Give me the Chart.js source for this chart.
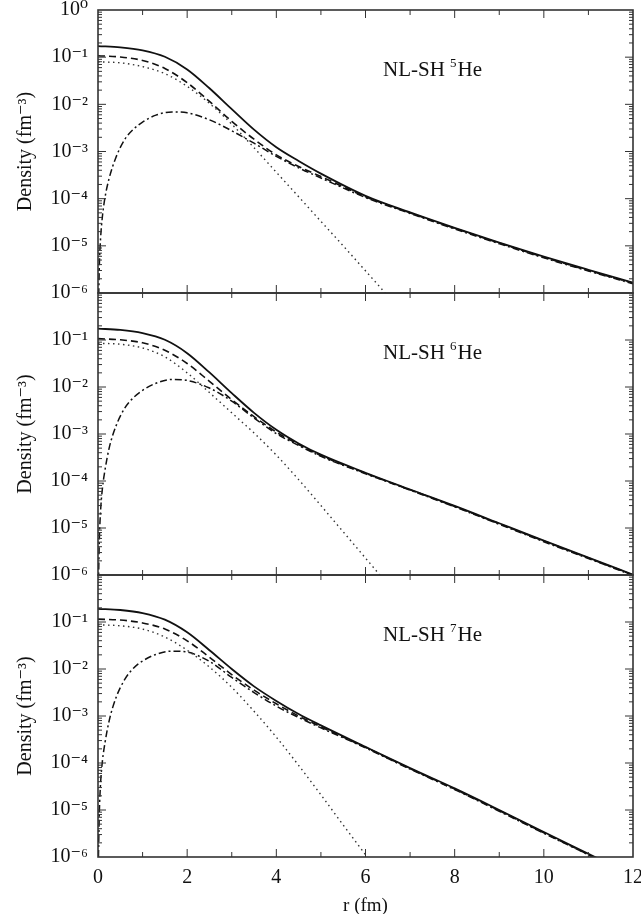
<!DOCTYPE html>
<html>
<head>
<meta charset="utf-8">
<script src="https://cdn.jsdelivr.net/npm/chart.js@4.4.1/dist/chart.umd.min.js"></script>
<style>
  body { margin: 0; background: #fff; }
  #wrap { position: relative; width: 641px; height: 914px; overflow: hidden; }
  canvas { position: absolute; left: 0; }
</style>
</head>
<body>
<div id="wrap">
  <canvas id="c1" width="641" height="310" style="top:0px"></canvas>
  <canvas id="c2" width="641" height="310" style="top:283px"></canvas>
  <canvas id="c3" width="641" height="349" style="top:565px"></canvas>
</div>
<script>
// radial grids (fm)
const rCore = [0, 0.5, 1, 1.5, 2, 2.5, 3, 3.5, 4, 4.5, 5, 6, 7, 8, 9, 10, 11, 12];
const rDot = [0, 0.5, 1, 1.5, 2, 2.5, 3, 3.5, 4, 4.5, 5, 5.5, 6, 6.5, 7];
const rVal = [0.01, 0.03, 0.06, 0.1, 0.16, 0.25, 0.4, 0.6, 0.8, 1, 1.3, 1.66, 2, 2.5, 3, 3.5, 4, 4.5, 5, 6, 7, 8, 9, 10, 11, 12];

// 5He densities (fm^-3)
const he5Solid = [0.172, 0.162, 0.14, 0.102, 0.055, 0.0219, 7.9e-3, 2.9e-3, 1.23e-3, 6.3e-4, 3.4e-4, 1.15e-4, 5.1e-5, 2.4e-5, 1.17e-5, 5.9e-6, 3.1e-6, 1.66e-6];
const he5Dashed = [0.107, 0.101, 0.0851, 0.0575, 0.0288, 0.0115, 4.37e-3, 1.82e-3, 8.5e-4, 4.8e-4, 2.95e-4, 1.1e-4, 5.0e-5, 2.35e-5, 1.15e-5, 5.75e-6, 3.0e-6, 1.62e-6];
const he5Dotted = [0.0794, 0.0759, 0.0631, 0.0447, 0.024, 0.0105, 3.8e-3, 1.2e-3, 3.63e-4, 1.1e-4, 3.3e-5, 1.0e-5, 2.95e-6, 8.7e-7, 2.5e-7];
const he5DashDot = [4.3e-7, 3.8e-6, 1.55e-5, 4.3e-5, 1.1e-4, 2.7e-4, 7.4e-4, 1.8e-3, 3.0e-3, 4.2e-3, 5.9e-3, 6.9e-3, 6.6e-3, 4.7e-3, 2.75e-3, 1.5e-3, 7.9e-4, 4.5e-4, 2.75e-4, 1.06e-4, 4.85e-5, 2.28e-5, 1.11e-5, 5.55e-6, 2.93e-6, 1.57e-6];

// 6He densities
const he6Solid = [0.174, 0.164, 0.14, 0.101, 0.0525, 0.0204, 7.4e-3, 2.82e-3, 1.23e-3, 6.3e-4, 3.63e-4, 1.5e-4, 6.6e-5, 2.95e-5, 1.26e-5, 5.4e-6, 2.35e-6, 1.02e-6];
const he6Dashed = [0.107, 0.101, 0.0871, 0.0603, 0.0316, 0.0132, 5.37e-3, 2.34e-3, 1.1e-3, 6.0e-4, 3.47e-4, 1.46e-4, 6.5e-5, 2.88e-5, 1.23e-5, 5.3e-6, 2.3e-6, 1.0e-6];
const he6Dotted = [0.0851, 0.0813, 0.0676, 0.0437, 0.02, 7.6e-3, 2.82e-3, 1.05e-3, 3.55e-4, 1.07e-4, 3.0e-5, 8.3e-6, 2.29e-6, 6.3e-7, 1.74e-7];
const he6DashDot = [6.3e-7, 5.6e-6, 2.5e-5, 7.1e-5, 1.78e-4, 5.0e-4, 1.45e-3, 3.55e-3, 6.0e-3, 8.5e-3, 0.012, 0.0145, 0.0138, 9.5e-3, 5.0e-3, 2.19e-3, 1.02e-3, 5.7e-4, 3.35e-4, 1.43e-4, 6.4e-5, 2.82e-5, 1.2e-5, 5.1e-6, 2.24e-6, 9.8e-7];

// 7He densities
const he7Solid = [0.19, 0.18, 0.155, 0.112, 0.0603, 0.0251, 0.01, 4.27e-3, 2.09e-3, 1.1e-3, 6.3e-4, 2.2e-4, 7.8e-5, 2.88e-5, 1.0e-5, 3.4e-6, 1.17e-6, 4.0e-7];
const he7Dashed = [0.115, 0.11, 0.0955, 0.0708, 0.0398, 0.0178, 7.6e-3, 3.55e-3, 1.82e-3, 1.0e-3, 5.9e-4, 2.15e-4, 7.6e-5, 2.78e-5, 9.7e-6, 3.27e-6, 1.13e-6, 3.85e-7];
const he7Dotted = [0.087, 0.083, 0.0708, 0.0479, 0.0251, 0.011, 4.07e-3, 1.26e-3, 3.55e-4, 8.9e-5, 2.1e-5, 4.8e-6, 1.12e-6, 2.6e-7, 6.3e-8];
const he7DashDot = [1.0e-6, 8.9e-6, 4.0e-5, 1.12e-4, 2.8e-4, 7.9e-4, 2.4e-3, 6.0e-3, 0.0105, 0.0148, 0.0204, 0.024, 0.0229, 0.0145, 6.6e-3, 3.16e-3, 1.62e-3, 9.3e-4, 5.6e-4, 2.1e-4, 7.4e-5, 2.72e-5, 9.4e-6, 3.2e-6, 1.11e-6, 3.76e-7];

// axis ticks
const yTickValues = [1e-6, 1e-5, 1e-4, 1e-3, 1e-2, 1e-1, 1];
const xTickStep = 2;

const SERIF = '"Liberation Serif", "DejaVu Serif", serif';
const SUP = { '-': '\u207B', '0': '\u2070', '1': '\u00B9', '2': '\u00B2', '3': '\u00B3', '4': '\u2074', '5': '\u2075', '6': '\u2076' };

function pts(rs, vs) {
  return rs.map((r, i) => ({ x: r, y: vs[i] }));
}

// box + inward ticks on all four sides
const framePlugin = {
  id: 'frame',
  afterDatasetsDraw(chart) {
    const { ctx, chartArea: a, scales: { x, y } } = chart;
    ctx.save();
    ctx.strokeStyle = '#333';
    ctx.lineWidth = 1;
    ctx.beginPath();
    for (let r = 1; r < 12; r++) {
      const px = x.getPixelForValue(r);
      const len = r % 2 === 0 ? 8 : 5;
      ctx.moveTo(px, a.bottom); ctx.lineTo(px, a.bottom - len);
      ctx.moveTo(px, a.top); ctx.lineTo(px, a.top + len);
    }
    for (let d = -6; d < 0; d++) {
      for (let m = 1; m < 10; m++) {
        if (d === -6 && m === 1) continue;
        const py = y.getPixelForValue(m * Math.pow(10, d));
        const len = m === 1 ? 8 : 4;
        ctx.moveTo(a.left, py); ctx.lineTo(a.left + len, py);
        ctx.moveTo(a.right, py); ctx.lineTo(a.right - len, py);
      }
    }
    ctx.stroke();
    ctx.lineWidth = 1.6;
    ctx.strokeRect(a.left, a.top, a.right - a.left, a.bottom - a.top);
    ctx.restore();
  }
};

// "NL-SH ^AHe" label
const nucleusPlugin = {
  id: 'nucleus',
  afterDraw(chart, args, opts) {
    const { ctx, chartArea: a } = chart;
    const x0 = 383, yb = a.top + 66;
    ctx.save();
    ctx.fillStyle = '#111';
    ctx.textBaseline = 'alphabetic';
    ctx.font = '21px ' + SERIF;
    ctx.fillText('NL-SH ', x0, yb);
    let w = ctx.measureText('NL-SH ').width;
    ctx.font = '13px ' + SERIF;
    ctx.fillText(opts.mass, x0 + w, yb - 9);
    w += ctx.measureText(opts.mass).width + 1;
    ctx.font = '21px ' + SERIF;
    ctx.fillText('He', x0 + w, yb);
    ctx.restore();
  }
};

function makePanel(id, mass, solid, dashed, dotted, dashDot, opts) {
  const line = (data, dash, width, color) => ({
    data, borderColor: color, borderWidth: width, borderDash: dash,
    pointRadius: 0, fill: false, cubicInterpolationMode: 'monotone'
  });
  new Chart(document.getElementById(id), {
    type: 'line',
    data: {
      datasets: [
        line(pts(rDot, dotted), [1.5, 3.5], 1.4, '#333'),
        line(pts(rVal, dashDot), [7, 3, 2, 3], 1.5, '#111'),
        line(pts(rCore, dashed), [7, 4], 1.6, '#111'),
        line(pts(rCore, solid), [], 1.8, '#111')
      ]
    },
    options: {
      responsive: false,
      animation: false,
      layout: { padding: { top: 10, right: 8, bottom: opts.padBottom, left: 0 } },
      plugins: { legend: { display: false }, tooltip: { enabled: false }, nucleus: { mass } },
      scales: {
        x: {
          type: 'linear', min: 0, max: 12,
          display: opts.showX,
          grid: { display: false, drawTicks: false },
          border: { display: false },
          ticks: { stepSize: xTickStep, color: '#111', padding: 9, font: { family: SERIF, size: 20 } },
          title: { display: opts.showX, text: 'r (fm)', color: '#111', padding: { top: 0, bottom: -3 }, font: { family: SERIF, size: 19 } },
          afterFit: s => {
            if (opts.showX) s.height = 57;
            s.paddingLeft = 0; s.paddingRight = 0;
          }
        },
        y: {
          type: 'logarithmic', min: 1e-6, max: 1,
          grid: { display: false, drawTicks: false },
          border: { display: false },
          afterBuildTicks: s => { s.ticks = yTickValues.map(v => ({ value: v })); },
          afterFit: s => { s.width = 98; s.paddingTop = 0; s.paddingBottom = 0; },
          ticks: {
            color: '#111', padding: 10, font: { family: SERIF, size: 20 },
            callback: v => {
              const e = Math.round(Math.log10(v));
              if (e === 0 && !opts.showTop) return '';
              return '10' + String(e).split('').map(c => SUP[c]).join('');
            }
          },
          title: { display: true, text: 'Density (fm\u207B\u00B3)', color: '#111', padding: { top: 14, bottom: 0 }, font: { family: SERIF, size: 20 } }
        }
      }
    },
    plugins: [framePlugin, nucleusPlugin]
  });
}

makePanel('c1', '5', he5Solid, he5Dashed, he5Dotted, he5DashDot, { showX: false, showTop: true, padBottom: 17 });
makePanel('c2', '6', he6Solid, he6Dashed, he6Dotted, he6DashDot, { showX: false, showTop: false, padBottom: 18 });
makePanel('c3', '7', he7Solid, he7Dashed, he7Dotted, he7DashDot, { showX: true, showTop: false, padBottom: 0 });
</script>
</body>
</html>
